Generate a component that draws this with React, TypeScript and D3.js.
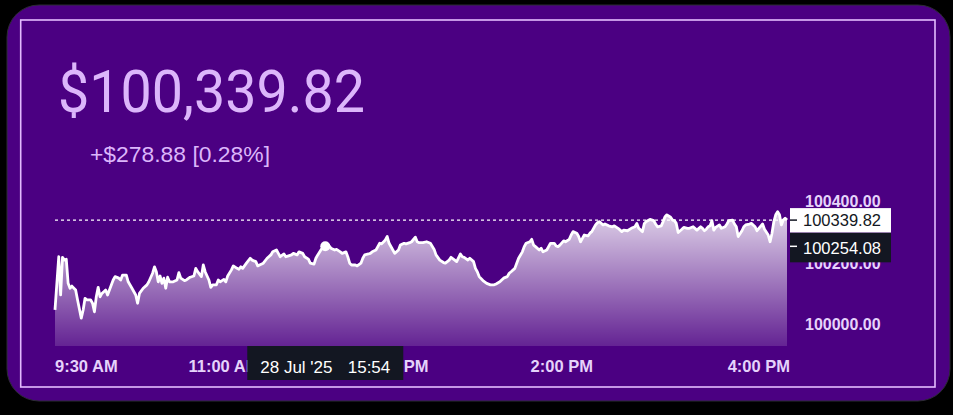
import React from "react";
import * as d3 from "d3";

// minutes since 9:30 AM (ET)
const minutes = [0,2,3,4,5,6,7,8,9,11,12,14,15,16,17,19,20,21,22,23,24,25,27,28,29,31,32,34,35,36,38,39,41,43,44,45,47,49,50,52,53,54,55,56,57,58,59,60,61,63,65,66,67,69,70,72,74,75,76,78,79,80,82,83,84,86,87,88,90,91,92,94,95,97,98,99,100,102,104,105,107,108,109,111,113,115,116,118,119,120,122,123,124,126,127,129,130,132,133,135,136,138,139,140,142,144,146,147,149,150,152,153,155,156,157,158,160,161,163,164,165,167,168,169,171,172,173,174,176,177,178,180,181,183,184,186,187,189,190,192,193,194,196,198,200,202,203,205,207,208,210,211,213,214,216,217,218,220,221,223,224,225,226,228,230,232,234,235,237,238,239,241,242,243,245,246,247,249,250,251,253,254,255,256,258,259,260,262,263,264,266,267,268,269,271,272,274,275,276,278,279,280,281,282,284,285,286,288,289,290,292,293,295,297,298,300,302,303,305,307,309,310,311,313,314,315,317,319,320,321,323,324,325,326,328,329,330,331,332,334,335,337,338,340,342,344,345,346,347,348,349,350,351,352,354,355,357,358,359,361,362,363,364,366,367,368,370,371,373,374,375,377,378,380,381,382,383,384,385,386,387,388,389,390];
const values = [100046,100220,100095,100218,100209,100212,100133,100117,100124,100111,100079,100019,100046,100084,100079,100079,100068,100040,100089,100120,100089,100100,100111,100095,100111,100144,100155,100150,100144,100160,100160,100138,100117,100095,100068,100100,100117,100128,100138,100166,100187,100171,100138,100157,100133,100150,100117,100153,100138,100138,100144,100168,100150,100142,100144,100153,100157,100182,100171,100155,100193,100171,100144,100120,100128,100128,100144,100138,100146,100138,100157,100177,100190,100182,100179,100187,100182,100199,100215,100209,100204,100190,100193,100199,100215,100226,100236,100242,100231,100220,100229,100220,100222,100226,100231,100226,100236,100231,100220,100212,100199,100196,100215,100226,100245,100254.08,100256,100248,100242,100244,100236,100231,100236,100220,100199,100193,100193,100190,100199,100215,100226,100229,100231,100236,100242,100253,100264,100262,100275,100286,100264,100242,100231,100242,100258,100264,100262,100266,100269,100284,100269,100266,100266,100269,100264,100244,100226,100209,100201,100199,100209,100218,100209,100204,100229,100220,100218,100209,100215,100204,100182,100171,100155,100142,100133,100128,100128,100131,100138,100144,100150,100155,100166,100171,100182,100199,100215,100236,100253,100264,100269,100277,100258,100253,100242,100248,100236,100242,100253,100264,100264,100255,100253,100258,100272,100269,100277,100291,100302,100297,100286,100269,100280,100291,100288,100297,100302,100324,100331,100335,100324,100327,100321,100318,100321,100313,100302,100307,100305,100313,100318,100329,100313,100302,100329,100335,100342,100338,100327,100318,100321,100335,100351,100357,100349,100340,100338,100329,100299,100310,100316,100313,100313,100318,100307,100318,100313,100305,100310,100318,100321,100338,100307,100316,100324,100313,100318,100327,100338,100340,100327,100318,100286,100305,100318,100324,100327,100329,100318,100305,100313,100327,100310,100291,100269,100297,100335,100357,100367,100357,100324,100340,100346,100339.82];

const timeTickMinutes = [0, 90, 180, 270, 390];
const timeTickLabels = ["9:30 AM", "11:00 AM", "12:30 PM", "2:00 PM", "4:00 PM"];
const priceTicks = [100000, 100200, 100400];

const lastPrice = 100339.82;
const crosshairMinute = 144;
const crosshairPrice = 100254.08;
const crosshairDate = "28 Jul '25";
const crosshairTime = "15:54";
const headline = "$100,339.82";
const change = "+$278.88 [0.28%]";

export default function App() {
  const W = 953, H = 415;
  const x = d3.scaleLinear().domain([0, 390]).range([55, 787]);
  const y = d3.scaleLinear().domain([100000, 100400]).range([324, 201.7]);
  const paneBottom = 346;
  const pts = minutes.map((m, i) => [m, values[i]] as [number, number]);
  const line = d3.line<[number, number]>().x(d => x(d[0])).y(d => y(d[1]));
  const area = d3.area<[number, number]>().x(d => x(d[0])).y0(paneBottom).y1(d => y(d[1]));
  const lav = "#dcb6fb";
  const axisCol = "#e6d3fb";
  const fmt = d3.format(".2f");
  const lastY = y(lastPrice);
  const chY = y(crosshairPrice);
  const chX = x(crosshairMinute);
  return (
    <svg width={W} height={H} style={{ position: "fixed", left: 0, top: 0, display: "block" }}>
      <defs>
        <linearGradient id="fillGrad" gradientUnits="userSpaceOnUse" x1="0" y1="205" x2="0" y2={paneBottom}>
          <stop offset="0" stopColor="#ffffff" stopOpacity={0.86} />
          <stop offset="0.5" stopColor="#ffffff" stopOpacity={0.5} />
          <stop offset="1" stopColor="#ffffff" stopOpacity={0.14} />
        </linearGradient>
      </defs>
      <rect x={0} y={0} width={W} height={H} fill="#000" />
      <rect x={7} y={5} width={943} height={396} rx={32} fill="#4b0082" stroke="#2c2c34" strokeWidth={1} />
      <rect x={20.7} y={20} width={914.3} height={367} fill="none" stroke="#e4bcff" strokeWidth={1.6} />

      <text x={58} y={112} fontFamily="Roboto" fontWeight={400} fontSize={60} fill={lav} textLength={307} lengthAdjust="spacingAndGlyphs">{headline}</text>
      <text x={90} y={162} fontFamily="Liberation Sans" fontSize={21.5} fill={lav} textLength={180} lengthAdjust="spacingAndGlyphs">{change}</text>

      <path d={area(pts) || ""} fill="url(#fillGrad)" />
      <line x1={55} x2={787} y1={lastY} y2={lastY} stroke="#ffffff" strokeWidth={1.4} strokeDasharray="3 3" />
      <path d={line(pts) || ""} fill="none" stroke="#ffffff" strokeWidth={2.8} strokeLinejoin="round" />
      <circle cx={chX} cy={chY} r={5} fill="#ffffff" />

      {priceTicks.map(p => (
        <text key={p} x={805} y={y(p)} dy="0.36em" fontFamily="Liberation Sans" fontWeight={700} fontSize={16} fill={axisCol}>{fmt(p)}</text>
      ))}

      <rect x={790} y={lastY - 12} width={101} height={24.5} fill="#ffffff" />
      <line x1={790} x2={797} y1={lastY} y2={lastY} stroke="#131722" strokeWidth={1.5} />
      <text x={842} y={lastY} dy="0.36em" textAnchor="middle" fontFamily="Liberation Sans" fontSize={16.5} fill="#131722">{fmt(lastPrice)}</text>

      <rect x={790} y={chY - 13.5} width={101} height={29.5} fill="#131722" />
      <line x1={790} x2={797} y1={chY} y2={chY} stroke="#ffffff" strokeWidth={1.5} />
      <text x={842} y={chY + 1.5} dy="0.36em" textAnchor="middle" fontFamily="Liberation Sans" fontSize={16.5} fill="#ffffff">{fmt(crosshairPrice)}</text>

      {timeTickMinutes.map((m, i) => {
        const anchor = i === 0 ? "start" : i === timeTickMinutes.length - 1 ? "end" : "middle";
        const tx = i === timeTickMinutes.length - 1 ? x(m) + 3 : x(m);
        return (
          <text key={m} x={tx} y={366} dy="0.36em" textAnchor={anchor} fontFamily="Liberation Sans" fontWeight={700} fontSize={16.5} fill={axisCol}>{timeTickLabels[i]}</text>
        );
      })}

      <rect x={chX - 78} y={346} width={156} height={34} fill="#131722" />
      <text x={chX - 65} y={366.5} dy="0.36em" fontFamily="Liberation Sans" fontSize={17} fill="#ffffff">{crosshairDate}</text>
      <text x={chX + 65} y={366.5} dy="0.36em" textAnchor="end" fontFamily="Liberation Sans" fontSize={17} fill="#ffffff">{crosshairTime}</text>
    </svg>
  );
}
